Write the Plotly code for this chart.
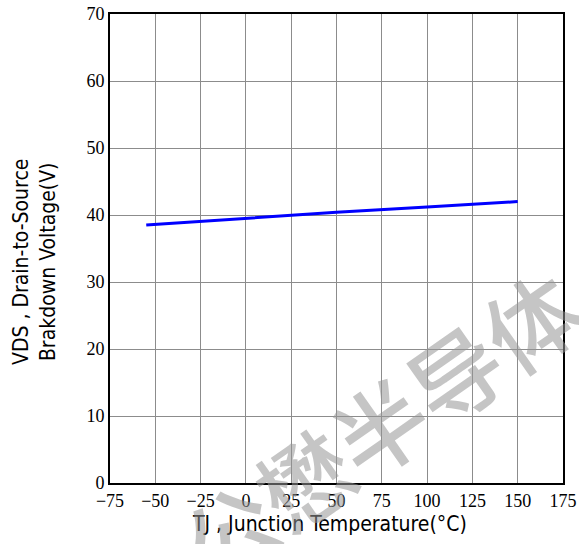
import plotly.graph_objects as go

temps = [-55, 0, 25, 50, 100, 150]
bvdss = [38.5, 39.5, 40.0, 40.4, 41.2, 42.0]

x_ticks = [-75, -50, -25, 0, 25, 50, 75, 100, 125, 150, 175]
y_ticks = [0, 10, 20, 30, 40, 50, 60, 70]

x_title = "TJ , Junction Temperature(°C)"
y_title = "VDS , Drain-to-Source<br>Brakdown Voltage(V)"
watermark = "公懋半导体"

fig = go.Figure()
fig.add_trace(go.Scatter(x=temps, y=bvdss, mode="lines",
                         line=dict(color="#0000ff", width=3), showlegend=False))

axis_common = dict(showgrid=True, gridcolor="#8c8c8c", gridwidth=1,
                   showline=True, linecolor="black", linewidth=2, mirror=True,
                   zeroline=False, ticks="", automargin=False,
                   tickfont=dict(family="Liberation Serif", size=18, color="black"))
fig.update_xaxes(range=[-75, 175], tickvals=x_ticks,
                 ticktext=[str(v).replace("-", "−") for v in x_ticks], **axis_common)
fig.update_yaxes(range=[0, 70], tickvals=y_ticks, **axis_common)

fig.add_annotation(text=x_title, xref="paper", yref="paper", x=(329-110)/453, y=-(524-483)/469,
                   showarrow=False, xanchor="center", yanchor="middle",
                   font=dict(family="DejaVu Sans Condensed", size=21, color="black"))
fig.add_annotation(text=y_title, xref="paper", yref="paper", x=(34-110)/453, y=(483-262)/469,
                   showarrow=False, xanchor="center", yanchor="middle", textangle=-90,
                   font=dict(family="DejaVu Sans Condensed", size=21, color="black"))
fig.add_annotation(text=watermark, xref="paper", yref="paper", x=(378-110)/453, y=(483-424)/469,
                   showarrow=False, xanchor="center", yanchor="middle", textangle=-35,
                   font=dict(family="Noto Sans CJK SC", size=92, weight=500,
                             color="rgba(150,150,150,0.55)"))

fig.update_layout(width=579, height=544,
                  margin=dict(l=110, r=16, t=14, b=61, autoexpand=False),
                  plot_bgcolor="white", paper_bgcolor="white")
fig.write_html("out.html")
